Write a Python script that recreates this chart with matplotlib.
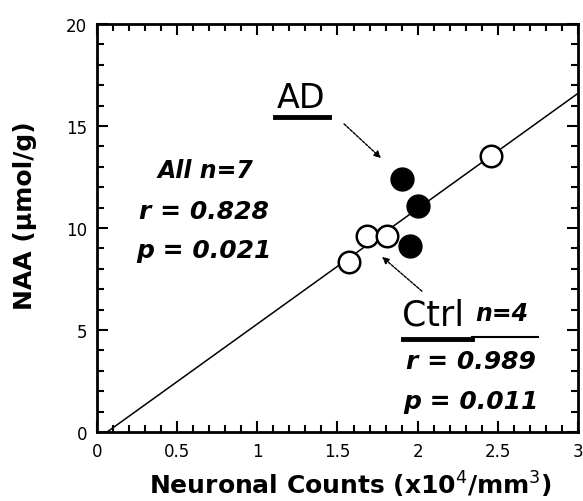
import numpy as np
import matplotlib
matplotlib.use("Agg")
import matplotlib.pyplot as plt
from matplotlib.ticker import MultipleLocator

plt.rcParams['font.family'] = ['DejaVu Sans']

# Data
ctrl_x = [1.57, 1.686, 1.81, 2.456]
ctrl_y = [8.32, 9.62, 9.62, 13.54]
ad_x = [1.90, 2.00, 1.953]
ad_y = [12.4, 11.09, 9.13]

xticks = [0, 0.5, 1, 1.5, 2, 2.5, 3]
xtick_labels = ["0", "0.5", "1", "1.5", "2", "2.5", "3"]
yticks = [0, 5, 10, 15, 20]
ytick_labels = ["0", "5", "10", "15", "20"]

fig = plt.figure(figsize=(5.83, 5.02), dpi=100)
ax = fig.add_axes([0.1664, 0.1375, 0.825, 0.8125])

# Regression line for Ctrl
slope, intercept = np.polyfit(ctrl_x, ctrl_y, 1)
xl = np.linspace(0, 3, 200)
ax.plot(xl, slope * xl + intercept, color='black', lw=1.1, zorder=2)

ax.plot(ctrl_x, ctrl_y, 'o', ms=15.5, mfc='white', mec='black', mew=1.8, zorder=3)
ax.plot(ad_x, ad_y, 'o', ms=16.5, mfc='black', mec='black', zorder=3)

ax.set_xlim(0, 3)
ax.set_ylim(0, 20)
ax.set_xticks(xticks)
ax.set_xticklabels(xtick_labels)
ax.set_yticks(yticks)
ax.set_yticklabels(ytick_labels)
ax.xaxis.set_minor_locator(MultipleLocator(0.1))
ax.yaxis.set_minor_locator(MultipleLocator(1))
ax.tick_params(which='both', direction='in', top=True, right=True, width=1.5, labelsize=12)
ax.tick_params(which='major', length=8, pad=7)
ax.tick_params(which='minor', length=5)
for s in ax.spines.values():
    s.set_linewidth(2)

ax.set_xlabel("Neuronal Counts (x10$^4$/mm$^3$)", fontsize=18, fontweight='bold', va='center')
ax.xaxis.set_label_coords(0.526, -0.128)
ax.set_ylabel("NAA (\u00b5mol/g)", fontsize=18, fontweight='bold', va='center')
ax.yaxis.set_label_coords(-0.150, 0.532)

def px(xp, yp):
    # convert figure pixel coordinates (from top-left) to figure fraction
    return (xp / 583.0, 1 - yp / 502.0)

# AD label
fig.text(*px(301, 98), "AD", fontsize=24, ha='center', va='center')
fig.lines.append(plt.Line2D([275/583, 329/583], [1-118/502, 1-118/502], transform=fig.transFigure, color='black', lw=3.5))
ax.annotate("", xy=fig.transFigure.transform(px(383, 161)), xycoords='figure pixels',
            xytext=fig.transFigure.transform(px(342, 123)), textcoords='figure pixels',
            arrowprops=dict(arrowstyle='-|>', color='black', lw=1, mutation_scale=10, linestyle=(0, (2, 1))))

# All stats
fig.text(*px(205, 171), "All n=7", fontsize=17, fontweight='bold', style='italic', ha='center', va='center')
fig.text(*px(204, 212), "r = 0.828", fontsize=18, fontweight='bold', style='italic', ha='center', va='center')
fig.text(*px(204, 251), "p = 0.021", fontsize=18, fontweight='bold', style='italic', ha='center', va='center')

# Ctrl label
fig.text(*px(402, 316), "Ctrl", fontsize=25, ha='left', va='center')
fig.text(*px(475, 314), "n=4", fontsize=17, fontweight='bold', style='italic', ha='left', va='center')
fig.lines.append(plt.Line2D([403/583, 472/583], [1-340/502, 1-340/502], transform=fig.transFigure, color='black', lw=3.5))
fig.lines.append(plt.Line2D([472/583, 538/583], [1-338/502, 1-338/502], transform=fig.transFigure, color='black', lw=1.5))
fig.text(*px(471, 362), "r = 0.989", fontsize=18, fontweight='bold', style='italic', ha='center', va='center')
fig.text(*px(471, 402), "p = 0.011", fontsize=18, fontweight='bold', style='italic', ha='center', va='center')
ax.annotate("", xy=fig.transFigure.transform(px(380, 256)), xycoords='figure pixels',
            xytext=fig.transFigure.transform(px(424, 294)), textcoords='figure pixels',
            arrowprops=dict(arrowstyle='-|>', color='black', lw=1, mutation_scale=10, linestyle=(0, (2, 1))))

fig.savefig("out.png", dpi=100)
